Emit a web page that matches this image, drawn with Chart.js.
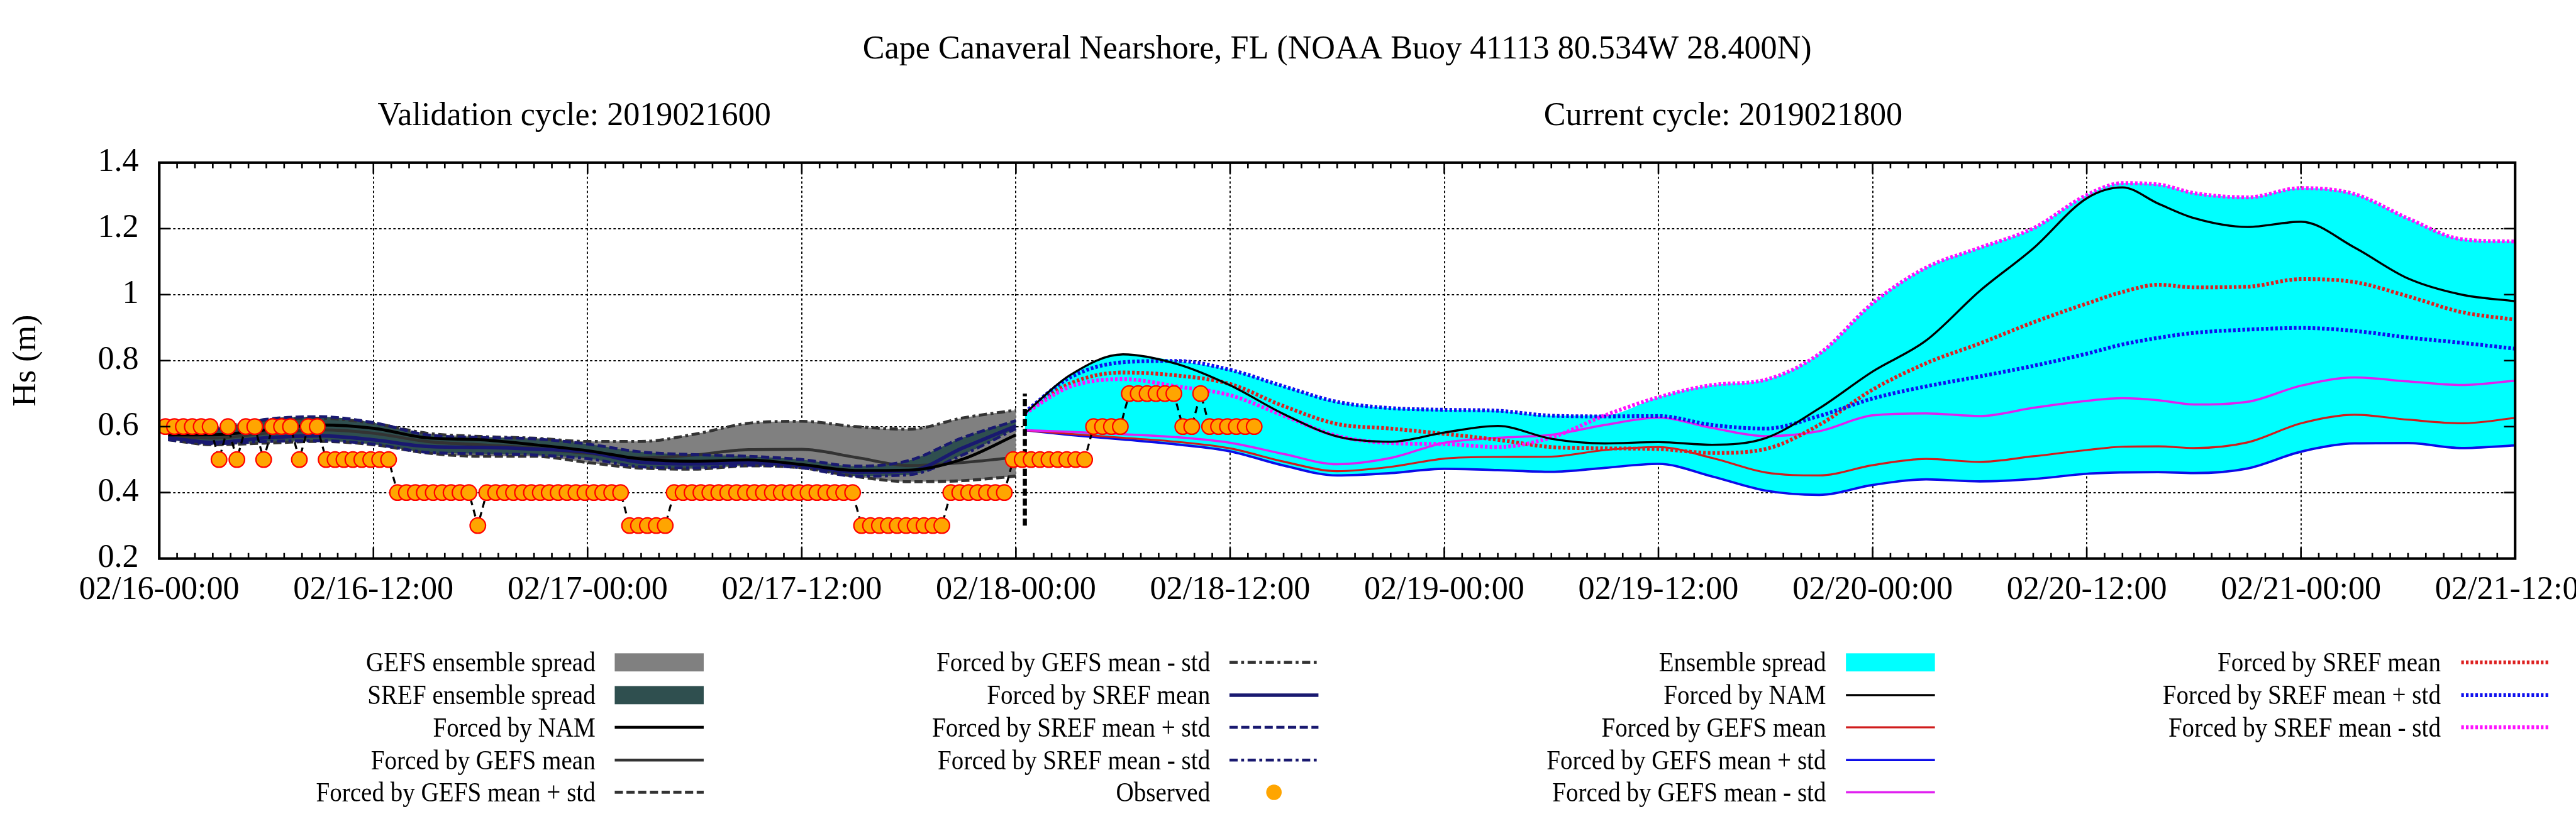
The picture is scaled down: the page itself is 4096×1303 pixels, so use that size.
<!DOCTYPE html>
<html>
<head>
<meta charset="utf-8">
<title>Cape Canaveral Nearshore Hs</title>
<script src="https://cdn.jsdelivr.net/npm/chart.js@4.4.0/dist/chart.umd.min.js"></script>
<style>
  html, body { margin: 0; padding: 0; background: #fff; }
  #wrap { width: 4096px; height: 1303px; }
</style>
</head>
<body>
<div id="wrap"><canvas id="hsChart" width="4096" height="1303"></canvas></div>
<script>
// hours since 02/16-00:00
const xTickLabels = ['02/16-00:00', '02/16-12:00', '02/17-00:00', '02/17-12:00', '02/18-00:00', '02/18-12:00',
  '02/19-00:00', '02/19-12:00', '02/20-00:00', '02/20-12:00', '02/21-00:00', '02/21-12:00'];
const yTickLabels = ['0.2', '0.4', '0.6', '0.8', '1', '1.2', '1.4'];

// validation cycle 2019021600
const valTimes = [0.5, 3, 6, 9, 12, 15, 18, 21, 24, 27, 30, 33, 36, 39, 42, 45, 48];
const valNam = [0.575, 0.575, 0.590, 0.605, 0.595, 0.566, 0.560, 0.545, 0.527, 0.502, 0.495, 0.499, 0.485, 0.467, 0.468, 0.501, 0.575];
const valGefsMean = [0.570, 0.565, 0.580, 0.590, 0.580, 0.555, 0.545, 0.535, 0.519, 0.505, 0.514, 0.530, 0.531, 0.507, 0.482, 0.491, 0.507];
const valGefsPlus = [0.560, 0.545, 0.550, 0.555, 0.545, 0.520, 0.510, 0.510, 0.491, 0.474, 0.471, 0.481, 0.475, 0.449, 0.433, 0.436, 0.450];
const valGefsMinus = [0.580, 0.595, 0.620, 0.625, 0.610, 0.580, 0.570, 0.565, 0.555, 0.555, 0.577, 0.610, 0.616, 0.600, 0.592, 0.626, 0.650];
const valSrefMean = [0.567, 0.552, 0.566, 0.572, 0.560, 0.540, 0.537, 0.532, 0.523, 0.492, 0.487, 0.491, 0.482, 0.462, 0.465, 0.535, 0.602];
const valSrefPlus = [0.575, 0.590, 0.622, 0.630, 0.612, 0.575, 0.567, 0.563, 0.547, 0.523, 0.515, 0.510, 0.500, 0.480, 0.497, 0.566, 0.618];
const valSrefMinus = [0.560, 0.548, 0.555, 0.557, 0.547, 0.522, 0.518, 0.514, 0.503, 0.478, 0.475, 0.483, 0.475, 0.450, 0.454, 0.514, 0.594];

// current cycle 2019021800
const curTimes = [48.5, 51, 54, 57, 60, 63, 66, 69, 72, 75, 78, 81, 84, 87, 90, 93, 96, 99, 102, 105,
  108, 110, 112, 114, 117, 120, 123, 126, 129, 132];
const curNam = [0.640, 0.755, 0.819, 0.790, 0.725, 0.638, 0.570, 0.554, 0.582, 0.602, 0.563, 0.549, 0.553, 0.545, 0.565,
  0.655, 0.767, 0.861, 1.011, 1.140, 1.292, 1.325, 1.276, 1.232, 1.205, 1.221, 1.143, 1.049, 1.000, 0.980];
const curGefsMean = [0.589, 0.578, 0.566, 0.554, 0.534, 0.494, 0.465, 0.478, 0.503, 0.508, 0.509, 0.529, 0.538, 0.505, 0.461,
  0.452, 0.483, 0.502, 0.493, 0.510, 0.529, 0.539, 0.540, 0.535, 0.552, 0.610, 0.636, 0.621, 0.610, 0.626];
const curGefsPlus = [0.589, 0.575, 0.561, 0.546, 0.525, 0.482, 0.452, 0.459, 0.472, 0.468, 0.463, 0.475, 0.487, 0.449, 0.406,
  0.393, 0.423, 0.440, 0.434, 0.441, 0.457, 0.461, 0.462, 0.459, 0.473, 0.524, 0.549, 0.550, 0.535, 0.543];
const curGefsMinus = [0.589, 0.584, 0.577, 0.568, 0.551, 0.517, 0.486, 0.505, 0.551, 0.566, 0.575, 0.605, 0.627, 0.596, 0.571,
  0.586, 0.634, 0.640, 0.632, 0.657, 0.678, 0.686, 0.680, 0.667, 0.675, 0.724, 0.749, 0.737, 0.726, 0.739];
const curSrefMean = [0.644, 0.730, 0.764, 0.755, 0.729, 0.662, 0.608, 0.594, 0.578, 0.560, 0.538, 0.534, 0.532, 0.520, 0.532,
  0.605, 0.712, 0.792, 0.852, 0.916, 0.973, 1.008, 1.030, 1.022, 1.024, 1.047, 1.038, 0.995, 0.947, 0.924];
const curSrefPlus = [0.644, 0.748, 0.795, 0.799, 0.772, 0.722, 0.675, 0.656, 0.651, 0.648, 0.633, 0.631, 0.632, 0.605, 0.594,
  0.632, 0.685, 0.722, 0.752, 0.784, 0.821, 0.849, 0.869, 0.884, 0.894, 0.899, 0.890, 0.870, 0.854, 0.836];
const curSrefMinus = [0.640, 0.720, 0.744, 0.722, 0.695, 0.633, 0.572, 0.550, 0.547, 0.538, 0.567, 0.634, 0.689, 0.726, 0.742,
  0.820, 0.974, 1.082, 1.142, 1.201, 1.302, 1.338, 1.334, 1.308, 1.295, 1.323, 1.305, 1.231, 1.168, 1.161];

// buoy observations, every 30 min
const obsStart = 0.35;
const obsStep = 0.5;
const observed = [
  0.6, 0.6, 0.6, 0.6, 0.6, 0.6, 0.5, 0.6, 0.5, 0.6, 0.6, 0.5, 0.6, 0.6, 0.6, 0.5, 0.6, 0.6,
  0.5, 0.5, 0.5, 0.5, 0.5, 0.5, 0.5, 0.5,
  0.4, 0.4, 0.4, 0.4, 0.4, 0.4, 0.4, 0.4, 0.4, 0.3,
  0.4, 0.4, 0.4, 0.4, 0.4, 0.4, 0.4, 0.4, 0.4, 0.4, 0.4, 0.4, 0.4, 0.4, 0.4, 0.4,
  0.3, 0.3, 0.3, 0.3, 0.3,
  0.4, 0.4, 0.4, 0.4, 0.4, 0.4, 0.4, 0.4, 0.4, 0.4, 0.4, 0.4, 0.4, 0.4, 0.4, 0.4, 0.4, 0.4, 0.4, 0.4, 0.4,
  0.3, 0.3, 0.3, 0.3, 0.3, 0.3, 0.3, 0.3, 0.3, 0.3,
  0.4, 0.4, 0.4, 0.4, 0.4, 0.4, 0.4,
  0.5, 0.5, 0.5, 0.5, 0.5, 0.5, 0.5, 0.5, 0.5,
  0.6, 0.6, 0.6, 0.6, 0.7, 0.7, 0.7, 0.7, 0.7, 0.7, 0.6, 0.6, 0.7,
  0.6, 0.6, 0.6, 0.6, 0.6, 0.6
];
const obsTimes = observed.map((v, i) => obsStart + i * obsStep);

const cycleLineX = [48.5, 48.5];
const cycleLineY = [0.3, 0.7];

const xMin = 0, xMax = 132, xStep = 12;
const yMin = 0.2, yMax = 1.4, yStep = 0.2;

// ---- layout (reference px scaled to the window) ----
const S = 4096 / 4400;
const W = 4096, H = 1303;
const FONT = "'Liberation Serif', 'Times New Roman', serif";
const plotBox = { left: 272, top: 278, right: 4296, bottom: 954.6 };

const legendLayout = [
  ['gefsFill', 'srefFill', 'valNam', 'valGefsMean', 'valGefsPlus'],
  ['valGefsMinus', 'valSrefMean', 'valSrefPlus', 'valSrefMinus', 'obs'],
  ['envFill', 'curNam', 'curGefsMean', 'curGefsPlus', 'curGefsMinus'],
  ['curSrefMean', 'curSrefPlus', 'curSrefMinus']
];
const legendTextRight = [1017, 2067, 3119, 4169];
const legendSampleLeft = [1050, 2100, 3153, 4204];
const legendSampleWidth = 152;
const legendRowY = [1132, 1188, 1243, 1299, 1354];

function pts(times, vals) {
  return times.map((t, i) => ({ x: t, y: vals[i] }));
}

const curSeries = [curNam, curGefsMean, curGefsPlus, curGefsMinus, curSrefMean, curSrefPlus, curSrefMinus];
const envUpper = curTimes.map((t, i) => Math.max(...curSeries.map(s => s[i])));
const envLower = curTimes.map((t, i) => Math.min(...curSeries.map(s => s[i])));

const dashed = [14 * S, 6 * S];
const dashDot = [14 * S, 6 * S, 5 * S, 6 * S];
const dotted = [4.5 * S, 3.5 * S];

function lineSet(key, label, times, vals, color, width, dash, order) {
  return {
    key, label, data: pts(times, vals),
    borderColor: color, borderWidth: width * S, borderDash: dash || [],
    pointRadius: 0, fill: false, cubicInterpolationMode: 'monotone', order
  };
}

const datasets = [
  {
    key: 'obs', label: 'Observed', data: pts(obsTimes, observed),
    borderColor: '#000', borderWidth: 3.5 * S, borderDash: [12 * S, 8 * S],
    pointRadius: 13.2 * S, pointBackgroundColor: '#ffa500', pointBorderColor: '#ff0000',
    pointBorderWidth: 2.4 * S, tension: 0, fill: false, order: 0
  },
  {
    key: 'cycle', label: '', data: pts(cycleLineX, cycleLineY),
    borderColor: '#000', borderWidth: 7 * S, borderDash: [12 * S, 5 * S],
    pointRadius: 0, fill: false, order: 1
  },
  lineSet('curNam', 'Forced by NAM', curTimes, curNam, '#000000', 3.6, null, 2),
  lineSet('curSrefMinus', 'Forced by SREF mean - std', curTimes, curSrefMinus, '#ff11ff', 6.5, dotted, 3),
  lineSet('curSrefPlus', 'Forced by SREF mean + std', curTimes, curSrefPlus, '#1010ee', 6.5, dotted, 4),
  lineSet('curSrefMean', 'Forced by SREF mean', curTimes, curSrefMean, '#dd2020', 6.5, dotted, 5),
  lineSet('curGefsMinus', 'Forced by GEFS mean - std', curTimes, curGefsMinus, '#e020f0', 3.8, null, 6),
  lineSet('curGefsMean', 'Forced by GEFS mean', curTimes, curGefsMean, '#d01c1c', 3.4, null, 7),
  lineSet('curGefsPlus', 'Forced by GEFS mean + std', curTimes, curGefsPlus, '#0c0ce8', 4, null, 8),
  lineSet('valNam', 'Forced by NAM', valTimes, valNam, '#000000', 5, null, 10),
  lineSet('valSrefMean', 'Forced by SREF mean', valTimes, valSrefMean, '#191970', 6, null, 11),
  lineSet('valSrefPlus', 'Forced by SREF mean + std', valTimes, valSrefPlus, '#191970', 5, dashed, 12),
  lineSet('valSrefMinus', 'Forced by SREF mean - std', valTimes, valSrefMinus, '#191970', 5, dashDot, 13),
  lineSet('valGefsMean', 'Forced by GEFS mean', valTimes, valGefsMean, '#333333', 5, null, 14),
  lineSet('valGefsPlus', 'Forced by GEFS mean + std', valTimes, valGefsPlus, '#333333', 5, dashed, 15),
  lineSet('valGefsMinus', 'Forced by GEFS mean - std', valTimes, valGefsMinus, '#333333', 5, dashDot, 16),
  lineSet('envLower', '', curTimes, envLower, 'rgba(0,0,0,0)', 1, null, 30)
];

function fillSet(key, label, times, vals, targetKey, color, order) {
  const target = datasets.findIndex(d => d.key === targetKey);
  return {
    key, label, data: pts(times, vals),
    borderColor: 'rgba(0,0,0,0)', borderWidth: 1, pointRadius: 0,
    backgroundColor: color, fill: { target }, cubicInterpolationMode: 'monotone', order
  };
}

datasets.push(fillSet('envFill', 'Ensemble spread', curTimes, envUpper, 'envLower', '#00ffff', 31));
datasets.push(fillSet('srefFill', 'SREF ensemble spread', valTimes, valSrefPlus, 'valSrefMinus', '#2f4f4f', 35));
datasets.push(fillSet('gefsFill', 'GEFS ensemble spread', valTimes, valGefsMinus, 'valGefsPlus', '#808080', 40));

function drawText(ctx, text, x, y, size, align, stretch) {
  ctx.save();
  ctx.font = size + 'px ' + FONT;
  ctx.fillStyle = '#000';
  ctx.textAlign = align;
  ctx.textBaseline = 'alphabetic';
  ctx.translate(x, y);
  ctx.scale(1, stretch || 1);
  ctx.fillText(text, 0, 0);
  ctx.restore();
}

function drawLegend(chart) {
  const ctx = chart.ctx;
  const fontPx = 42 * S;
  const stretch = 1.12;
  const capHalf = fontPx * 0.66 * stretch / 2;
  legendLayout.forEach((col, c) => {
    col.forEach((key, r) => {
      const d = chart.data.datasets.find(ds => ds.key === key);
      const yMid = legendRowY[r] * S;
      drawText(ctx, d.label, legendTextRight[c] * S, yMid + capHalf, fontPx, 'right', stretch);
      const x0 = legendSampleLeft[c] * S;
      const x1 = (legendSampleLeft[c] + legendSampleWidth) * S;
      ctx.save();
      if (d.fill) {
        const h = 31 * S;
        ctx.fillStyle = d.backgroundColor;
        ctx.fillRect(x0, yMid - h / 2, x1 - x0, h);
      } else if (key === 'obs') {
        ctx.fillStyle = d.pointBackgroundColor;
        ctx.beginPath();
        ctx.arc((x0 + x1) / 2, yMid, d.pointRadius, 0, Math.PI * 2);
        ctx.fill();
      } else {
        ctx.strokeStyle = d.borderColor;
        ctx.lineWidth = d.borderWidth;
        ctx.setLineDash(d.borderDash);
        ctx.beginPath();
        ctx.moveTo(x0, yMid);
        ctx.lineTo(x1, yMid);
        ctx.stroke();
      }
      ctx.restore();
    });
  });
}

const framePlugin = {
  id: 'frame',
  afterDatasetsDraw(chart) {
    const { ctx, chartArea: a, scales: { x, y } } = chart;
    ctx.save();
    ctx.strokeStyle = '#000';
    ctx.lineWidth = 2.8 * S;
    ctx.beginPath();
    for (let h = xMin; h <= xMax; h++) {
      const px = x.getPixelForValue(h);
      const len = (h % xStep === 0 ? 19 : 9.5) * S;
      ctx.moveTo(px, a.bottom);
      ctx.lineTo(px, a.bottom - len);
      ctx.moveTo(px, a.top);
      ctx.lineTo(px, a.top + len);
    }
    y.ticks.forEach(t => {
      const py = y.getPixelForValue(t.value);
      ctx.moveTo(a.left, py);
      ctx.lineTo(a.left + 19 * S, py);
      ctx.moveTo(a.right, py);
      ctx.lineTo(a.right - 19 * S, py);
    });
    ctx.stroke();
    ctx.lineWidth = 4.5 * S;
    ctx.strokeRect(a.left, a.top, a.right - a.left, a.bottom - a.top);
    ctx.restore();
  },
  afterDraw(chart) {
    const { ctx, chartArea: a } = chart;
    const fs = 56 * S;
    drawText(ctx, 'Cape Canaveral Nearshore, FL (NOAA Buoy 41113 80.534W 28.400N)', (a.left + a.right) / 2, 100 * S, fs, 'center');
    drawText(ctx, 'Validation cycle: 2019021600', 645 * S, 213.5 * S, fs, 'left');
    drawText(ctx, 'Current cycle: 2019021800', 2637 * S, 213.5 * S, fs, 'left');
    ctx.save();
    ctx.translate(45.6 * S, (a.top + a.bottom) / 2);
    ctx.rotate(-Math.PI / 2);
    ctx.font = fs + 'px ' + FONT;
    ctx.fillStyle = '#000';
    ctx.textAlign = 'center';
    ctx.textBaseline = 'middle';
    ctx.fillText('Hs (m)', 0, 0);
    ctx.restore();
    drawLegend(chart);
  }
};

const gridStyle = { color: '#000', lineWidth: 2 * S, drawTicks: false };
const gridBorder = { display: false, dash: [4 * S, 4 * S] };

new Chart(document.getElementById('hsChart').getContext('2d'), {
  type: 'line',
  data: { datasets },
  options: {
    responsive: false,
    animation: false,
    events: [],
    layout: { padding: { left: 0, top: plotBox.top * S, right: W - plotBox.right * S, bottom: 0 } },
    plugins: { legend: { display: false }, tooltip: { enabled: false }, title: { display: false } },
    scales: {
      x: {
        type: 'linear', position: 'bottom', min: xMin, max: xMax,
        afterFit(scale) { scale.height = H - plotBox.bottom * S; scale.paddingLeft = 0; scale.paddingRight = 0; },
        ticks: {
          stepSize: xStep, autoSkip: false, maxRotation: 0, padding: 19, color: '#000',
          font: { family: FONT, size: 56 * S },
          callback: (v, i) => xTickLabels[i]
        },
        grid: gridStyle,
        border: gridBorder
      },
      y: {
        type: 'linear', position: 'left', min: yMin, max: yMax,
        afterFit(scale) { scale.width = plotBox.left * S; scale.paddingTop = 0; scale.paddingBottom = 0; },
        ticks: {
          stepSize: yStep, padding: 32.6, color: '#000',
          font: { family: FONT, size: 56 * S },
          callback: (v, i) => yTickLabels[i]
        },
        grid: gridStyle,
        border: gridBorder
      }
    }
  },
  plugins: [framePlugin]
});
</script>
</body>
</html>
